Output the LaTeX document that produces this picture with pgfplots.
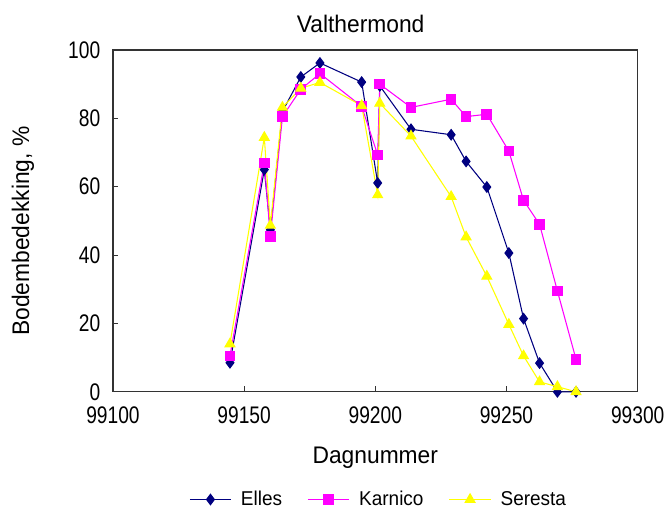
\documentclass[border=0pt]{standalone}
\usepackage{fontspec}
\setmainfont{Liberation Sans}[FakeStretch=0.95]
\newfontfamily\tickfont{Liberation Sans}[FakeStretch=0.8]
\usepackage{pgfplots}
\pgfplotsset{compat=1.18}
\definecolor{elles}{HTML}{000080}
\definecolor{karnico}{HTML}{FF00FF}
\definecolor{seresta}{HTML}{FFFF00}

\begin{document}
\begin{tikzpicture}
% page = 666 x 510 px, 1 px = 0.75 pt; axis box 525 x 342 px
\useasboundingbox (-84.75pt,-88.5pt) rectangle (415pt,294pt);
\begin{axis}[
  scale only axis,
  width=393.75pt, height=256.5pt,
  xmin=99100, xmax=99300, ymin=0, ymax=100,
  xtick={99100,99150,...,99300},
  ytick={0,20,...,100},
  xtick pos=bottom, ytick pos=left,
  tick align=inside, major tick length=4pt,
  axis line style={line width=1pt, black!80},
  every tick/.style={black!80, line width=0.8pt},
  scaled ticks=false,
  /pgf/number format/1000 sep={},
  /pgf/number format/assume math mode=true,
  ticklabel style={font=\tickfont\fontsize{18}{20}\selectfont},
  xticklabel style={yshift=-8pt},
  yticklabel style={xshift=-6pt},
  title={Valthermond},
  title style={font=\fontsize{18}{21}\selectfont, at={(axis description cs:0.472,1.029)}, anchor=base, yshift=0pt},
  xlabel={Dagnummer},
  xlabel style={font=\fontsize{18}{21}\selectfont, at={(axis description cs:0.5,-0.2105)}, anchor=base},
  ylabel={Bodembedekking, \%},
  ylabel style={font=\fontsize{18}{21}\selectfont, at={(axis description cs:-0.1714,0.47)}, anchor=center},
  clip=false,
  legend columns=3,
  legend style={draw=none, fill=none, at={(0.507,-0.315)}, anchor=center,
                font=\fontsize{15}{17}\selectfont,
                /tikz/every even column/.append style={column sep=17pt}},
  legend image code/.code={
    \draw[mark repeat=2,mark phase=2] plot coordinates {(0pt,0pt)(15.5pt,0pt)(31pt,0pt)};},
]
\addplot[elles, line width=0.8pt, mark=diamond*, mark size=3.9pt,
         mark options={fill=elles, draw=elles}] coordinates {
  (99144.6,8.5) (99157.7,65.0) (99160.0,47.4) (99164.6,82.0) (99171.6,92.1)
  (99178.9,96.2) (99194.8,90.6) (99200.9,61.1) (99201.7,89.5) (99213.6,76.8)
  (99228.9,75.2) (99234.6,67.4) (99242.5,59.9) (99250.9,40.6) (99256.5,21.4)
  (99262.6,8.4) (99269.4,0) (99276.5,0)
};
\addlegendentry{\hspace{5pt}Elles}
\addplot[karnico, line width=0.8pt, mark=square*, mark size=3.6pt,
         mark options={fill=karnico, draw=karnico}] coordinates {
  (99144.6,10.5) (99157.7,66.9) (99160.0,45.5) (99164.6,80.5) (99171.6,88.5)
  (99178.9,93.1) (99194.8,83.5) (99200.9,69.3) (99201.7,90.0) (99213.6,83.2)
  (99228.9,85.6) (99234.6,80.5) (99242.5,81.2) (99250.9,70.4) (99256.5,56.0)
  (99262.6,49.0) (99269.4,29.5) (99276.5,9.5)
};
\addlegendentry{\hspace{5pt}Karnico}
\addplot[seresta, line width=0.8pt, mark=triangle*, mark size=4.2pt,
         mark options={fill=seresta, draw=seresta}] coordinates {
  (99144.6,14.0) (99157.7,74.4) (99160.0,48.7) (99164.6,83.2) (99171.6,88.8)
  (99178.9,90.5) (99194.8,83.7) (99200.9,57.6) (99201.7,84.4) (99213.6,74.8)
  (99228.9,57.1) (99234.6,45.3) (99242.5,33.8) (99250.9,19.7) (99256.5,10.5)
  (99262.6,2.9) (99269.4,1.5) (99276.5,0)
};
\addlegendentry{\hspace{5pt}Seresta}
\end{axis}
\end{tikzpicture}
\end{document}
